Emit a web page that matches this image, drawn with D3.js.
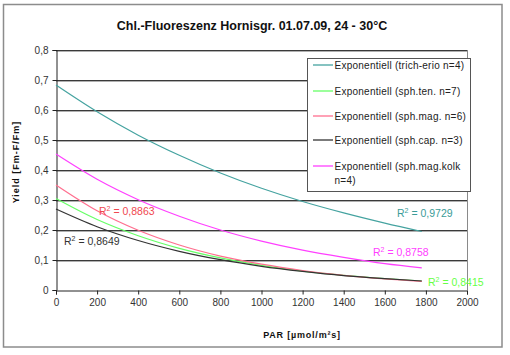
<!DOCTYPE html>
<html><head><meta charset="utf-8">
<script src="https://cdn.jsdelivr.net/npm/d3@7"></script>
<style>body{margin:0;background:#fff}svg{display:block}text{font-family:"Liberation Sans",Arial,sans-serif}</style>
</head><body><svg id="c" width="510" height="355"></svg>
<script>
const title = "Chl.-Fluoreszenz Hornisgr. 01.07.09, 24 - 30°C";
const xLabel = "PAR [µmol/m²s]";
const yLabel = "Yield [Fm-F/Fm]";
const xTicks = [0,200,400,600,800,1000,1200,1400,1600,1800,2000];
const yTicks = [0,0.1,0.2,0.3,0.4,0.5,0.6,0.7,0.8];
const par = [0,200,400,600,800,1000,1200,1400,1600,1780];
const trichErio = [0.683,0.594,0.516,0.449,0.390,0.339,0.295,0.257,0.223,0.195];
const sphTen    = [0.305,0.235,0.181,0.139,0.107,0.082,0.063,0.049,0.038,0.030];
const sphMag    = [0.350,0.264,0.199,0.150,0.113,0.086,0.065,0.049,0.037,0.029];
const sphCap    = [0.270,0.211,0.165,0.129,0.101,0.079,0.062,0.048,0.038,0.030];
const sphMagKolk= [0.453,0.369,0.301,0.246,0.200,0.163,0.133,0.109,0.088,0.074];
const seriesNames = ["Exponentiell (trich-erio n=4)","Exponentiell (sph.ten. n=7)","Exponentiell (sph.mag. n=6)","Exponentiell (sph.cap. n=3)","Exponentiell (sph.mag.kolk|n=4)"];
const seriesColors = ["#45a3a0","#66ff66","#ff6f8f","#333333","#ff40ff"];
const r2Values = ["0,9729","0,8415","0,8863","0,8649","0,8758"];
const r2Colors = ["#3a9c98","#66ff44","#f04850","#333333","#ff40ff"];

const svg = d3.select("#c");
const ml=56, mr=467, mt=50, mb=290;
const x = d3.scaleLinear().domain([0,2000]).range([ml,mr]);
const y = d3.scaleLinear().domain([0,0.8]).range([mb,mt]);

svg.append("rect").attr("x",3.5).attr("y",4.5).attr("width",498.5).attr("height",342.5)
  .attr("fill","#fff").attr("stroke","#8c8c8c").attr("stroke-width",1.5);

svg.append("text").attr("x",252).attr("y",30).attr("text-anchor","middle")
  .attr("font-size",12.5).attr("font-weight","bold").attr("fill","#111").text(title);

// gridlines
const g = svg.append("g");
yTicks.forEach(v=>{
  const yy=Math.round(y(v));
  if(v>0){
    g.append("line").attr("x1",ml).attr("x2",mr).attr("y1",yy+0.5).attr("y2",yy+0.5).attr("stroke","#3a3a3a").attr("stroke-width",1);
    g.append("line").attr("x1",ml).attr("x2",mr).attr("y1",yy+1.5).attr("y2",yy+1.5).attr("stroke","#b0b0b0").attr("stroke-width",1);
  }
});
g.append("line").attr("x1",mr+0.5).attr("x2",mr+0.5).attr("y1",mt).attr("y2",mb).attr("stroke","#8a8a8a");

// axes
const yAxis = d3.axisLeft(y).tickValues(yTicks).tickSize(4).tickPadding(4)
  .tickFormat(d=>d3.format(".1f")(d).replace(".",",").replace(/^0,0$/,"0"));
const ya = svg.append("g").attr("transform",`translate(${ml+0.5},0)`).call(yAxis);
const xAxis = d3.axisBottom(x).tickValues(xTicks).tickSize(4).tickPadding(4).tickFormat(d3.format("d"));
const xa = svg.append("g").attr("transform",`translate(0,${mb+0.5})`).call(xAxis);
[ya,xa].forEach(a=>{
  a.select(".domain").attr("stroke","#222");
  a.selectAll(".tick line").attr("stroke","#222");
  a.selectAll(".tick text").attr("font-size",10).attr("fill","#333").attr("font-family","Liberation Sans, Arial, sans-serif");
});

svg.append("text").attr("transform","translate(19,162) rotate(-90)").attr("text-anchor","middle")
  .attr("font-size",9).attr("font-weight","bold").attr("letter-spacing",1).attr("fill","#111").text(yLabel);
svg.append("text").attr("x",302).attr("y",338).attr("text-anchor","middle")
  .attr("font-size",9).attr("font-weight","bold").attr("letter-spacing",0.8).attr("fill","#111").text(xLabel);

// curves
const all = [trichErio,sphTen,sphMag,sphCap,sphMagKolk];
const line = d3.line().x((d,i)=>x(par[i])).y(d=>y(d)).curve(d3.curveMonotoneX);
all.forEach((s,i)=>{
  svg.append("path").attr("d",line(s)).attr("fill","none").attr("stroke",seriesColors[i]).attr("stroke-width",1.2);
});

// legend
const lg = svg.append("g");
lg.append("rect").attr("x",307.5).attr("y",58.5).attr("width",163).attr("height",133)
  .attr("fill","#fff").attr("stroke","#555").attr("stroke-width",1);
const rowY=[69,95,120,144,170];
seriesNames.forEach((n,i)=>{
  lg.append("line").attr("x1",313).attr("x2",333).attr("y1",rowY[i]-4).attr("y2",rowY[i]-4)
    .attr("stroke",seriesColors[i]).attr("stroke-width",1.3);
  const parts=n.split("|");
  parts.forEach((p,k)=>{
    lg.append("text").attr("x",334.5).attr("y",rowY[i]+k*13.5).attr("font-size",10)
      .attr("letter-spacing",0.25).attr("fill","#222").text(p);
  });
});

// R² labels
const r2Pos = [[397,217],[428,286],[99,215],[64,245],[373,256]];
r2Values.forEach((v,i)=>{
  const t=svg.append("text").attr("x",r2Pos[i][0]).attr("y",r2Pos[i][1]).attr("font-size",10.5).attr("fill",r2Colors[i]);
  t.append("tspan").text("R");
  t.append("tspan").attr("font-size",7).attr("dy",-4).text("2");
  t.append("tspan").attr("dy",4).text(" = "+v);
});
</script></body></html>
